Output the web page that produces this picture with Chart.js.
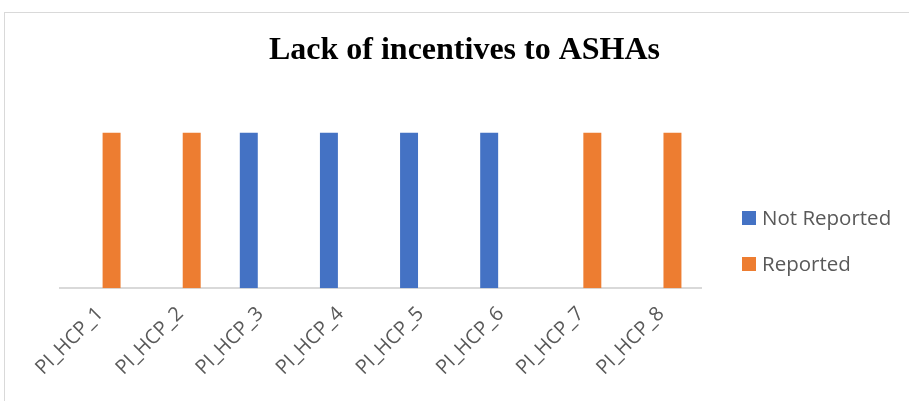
<!DOCTYPE html>
<html>
<head>
<meta charset="utf-8">
<script src="https://cdn.jsdelivr.net/npm/chart.js@4.4.1/dist/chart.umd.min.js"></script>
<style>
html,body{margin:0;padding:0;background:#fff;overflow:hidden;}
#wrap{position:relative;width:909px;height:401px;}
#frame{position:absolute;left:4px;top:12px;width:1000px;height:500px;border:1px solid #d9d9d9;box-sizing:border-box;}
canvas{position:absolute;left:0;top:0;}
</style>
</head>
<body>
<div id="wrap">
<div id="frame"></div>
<canvas id="c" width="909" height="401"></canvas>
</div>
<script>
const title = 'Lack of incentives to ASHAs';
const categories = ['PI_HCP_1','PI_HCP_2','PI_HCP_3','PI_HCP_4','PI_HCP_5','PI_HCP_6','PI_HCP_7','PI_HCP_8'];
const seriesNames = ['Not Reported','Reported'];
const notReported = [0,0,1,1,1,1,0,0];
const reported = [1,1,0,0,0,0,1,1];
const colors = ['#4472C4','#ED7D31'];

const legendPlugin = {
  id: 'customLegend',
  afterDraw(chart) {
    const ctx = chart.ctx;
    ctx.save();
    ctx.font = '20.5px "Open Sans"';
    ctx.textBaseline = 'middle';
    ctx.textAlign = 'left';
    const ys = [218, 264];
    chart.data.datasets.forEach((ds, i) => {
      ctx.fillStyle = ds.backgroundColor;
      ctx.fillRect(742, ys[i] - 7, 14, 14);
      ctx.fillStyle = '#595959';
      ctx.fillText(ds.label, 762, ys[i] + 1);
    });
    ctx.restore();
  }
};

new Chart(document.getElementById('c'), {
  type: 'bar',
  data: {
    labels: categories,
    datasets: [
      {label: seriesNames[0], data: notReported, backgroundColor: colors[0], categoryPercentage: 0.575, barPercentage: 0.78, yAxisID: 'y'},
      {label: seriesNames[1], data: reported, backgroundColor: colors[1], categoryPercentage: 0.575, barPercentage: 0.78, yAxisID: 'y'}
    ]
  },
  options: {
    responsive: false,
    animation: false,
    devicePixelRatio: 1,
    layout: {padding: {left: 20, right: 0, top: 18, bottom: 15}},
    plugins: {
      legend: {display: false},
      tooltip: {enabled: false},
      title: {
        display: true,
        text: title,
        color: '#000',
        font: {family: '"Liberation Serif", "Times New Roman", serif', size: 32, weight: 'bold'},
        padding: {top: 14, bottom: 62}
      }
    },
    scales: {
      x: {
        grid: {display: false},
        border: {display: true, color: '#d9d9d9', width: 2},
        ticks: {color: '#595959', font: {family: '"Open Sans"', size: 20}, minRotation: 45, maxRotation: 45, padding: 6}
      },
      y: {
        position: 'left',
        min: 0, max: 1,
        grid: {display: false},
        border: {display: false},
        ticks: {display: false},
        afterFit(s) { s.width = 40; }
      },
      yr: {
        type: 'linear',
        position: 'right',
        display: true,
        min: 0, max: 1,
        grid: {display: false},
        border: {display: false},
        ticks: {display: false},
        afterFit(s) { s.width = 208; }
      }
    }
  },
  plugins: [legendPlugin]
});
</script>
</body>
</html>
